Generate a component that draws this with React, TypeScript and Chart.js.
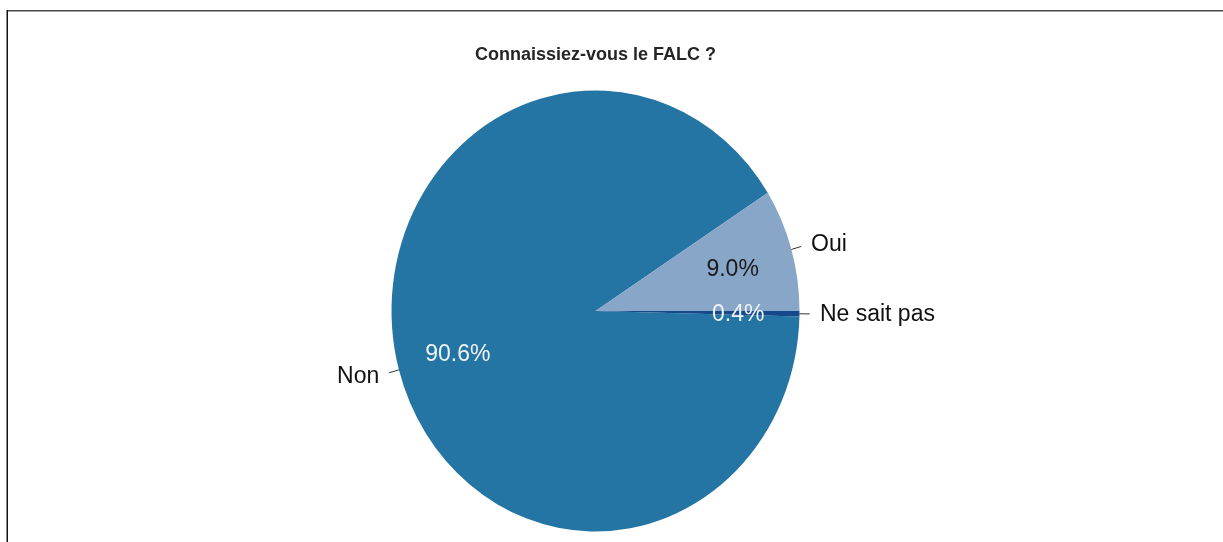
import React, { useEffect, useRef } from "react";
import { Chart, registerables } from "chart.js";

Chart.register(...registerables);

const TITLE = "Connaissiez-vous le FALC ?";
const categories = ["Non", "Oui", "Ne sait pas"];
const shares = [90.6, 9.0, 0.4];
const sliceColors = ["#2475a4", "#87a6c8", "#15498c"];
const pctTextColors = ["#eef3f8", "#1a1a1a", "#eef3f8"];

const FONT = "'Liberation Sans', Arial, sans-serif";
const STRETCH_Y = 220.5 / 204;

function centerOf(chart: any) {
  const a = chart.chartArea;
  return { cx: (a.left + a.right) / 2, cy: (a.top + a.bottom) / 2 };
}

const framePlugin = {
  id: "frame",
  beforeDraw(chart: any) {
    const ctx = chart.ctx;
    ctx.save();
    ctx.fillStyle = "#ffffff";
    ctx.fillRect(0, 0, chart.width, chart.height);
    ctx.fillStyle = "#4a4a4a";
    ctx.fillRect(7, 10, chart.width - 7, 1.5);
    ctx.fillStyle = "#111111";
    ctx.fillRect(6.5, 10, 1.5, chart.height - 10);
    ctx.restore();
  },
};

const stretchPlugin = {
  id: "stretch",
  beforeDatasetsDraw(chart: any) {
    const { cx, cy } = centerOf(chart);
    const ctx = chart.ctx;
    ctx.save();
    ctx.translate(cx, cy);
    ctx.scale(1, STRETCH_Y);
    ctx.translate(-cx, -cy);
  },
  afterDatasetsDraw(chart: any) {
    chart.ctx.restore();
  },
};

const labelPlugin = {
  id: "pieLabels",
  afterDraw(chart: any) {
    const ctx = chart.ctx;
    const meta = chart.getDatasetMeta(0);
    ctx.save();
    meta.data.forEach((arc: any, i: number) => {
      const p = arc.getProps(["x", "y", "startAngle", "endAngle", "outerRadius"], true);
      const mid = (p.startAngle + p.endAngle) / 2;
      const c = Math.cos(mid);
      const s = Math.sin(mid);
      const r = p.outerRadius;
      const pt = (f: number) => ({ x: p.x + c * r * f, y: p.y + s * r * f * STRETCH_Y });
      // leader line
      const a = pt(1.0);
      const b = pt(1.05);
      ctx.strokeStyle = "#333333";
      ctx.lineWidth = 1;
      ctx.beginPath();
      ctx.moveTo(a.x, a.y);
      ctx.lineTo(b.x, b.y);
      ctx.stroke();
      // category label
      const t = pt(1.1);
      ctx.font = `23px ${FONT}`;
      ctx.fillStyle = "#111111";
      ctx.textAlign = c < 0 ? "right" : "left";
      ctx.textBaseline = "middle";
      ctx.fillText(chart.data.labels[i], t.x, t.y + 1);
      // percent label
      const q = pt(0.7);
      ctx.textAlign = "center";
      ctx.fillStyle = pctTextColors[i];
      const v = chart.data.datasets[0].data[i];
      ctx.fillText(v.toFixed(1) + "%", q.x, q.y + 2);
    });
    ctx.restore();
  },
};

export default function App() {
  const ref = useRef<HTMLCanvasElement | null>(null);
  useEffect(() => {
    if (!ref.current) return;
    const chart = new Chart(ref.current, {
      type: "pie",
      data: {
        labels: categories,
        datasets: [
          {
            data: shares,
            backgroundColor: sliceColors,
            borderWidth: 0,
            clip: false as any,
          },
        ],
      },
      options: {
        animation: false,
        responsive: false,
        rotation: 90 + shares[2] * 3.6,
        layout: { padding: { left: 391.5, right: 423.5, top: 34, bottom: 27 } },
        plugins: {
          legend: { display: false },
          tooltip: { enabled: false },
          title: {
            display: true,
            text: TITLE,
            color: "#262626",
            font: { family: FONT, size: 18, weight: "bold" },
            padding: { top: 10, bottom: 41.4 },
          },
        },
      },
      plugins: [framePlugin, stretchPlugin, labelPlugin],
    });
    return () => chart.destroy();
  }, []);
  return (
    <div style={{ position: "absolute", left: 0, top: 0, width: 1223, height: 542 }}>
      <canvas ref={ref} width={1223} height={542} style={{ display: "block" }} />
    </div>
  );
}
